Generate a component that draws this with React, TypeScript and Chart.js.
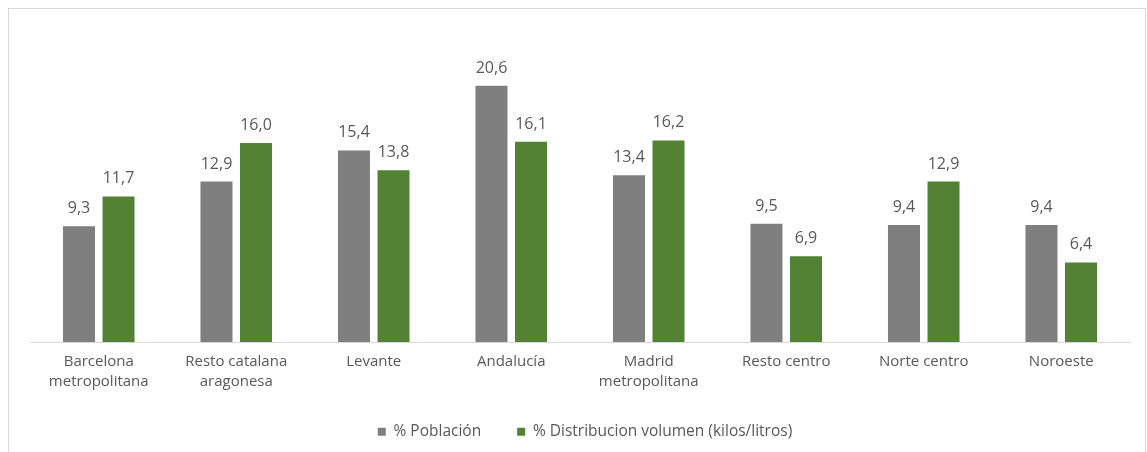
import React, { useEffect, useRef } from "react";
import { Chart, registerables } from "chart.js";

Chart.register(...registerables);

const categories: string[][] = [
  ["Barcelona", "metropolitana"],
  ["Resto catalana", "aragonesa"],
  ["Levante"],
  ["Andalucía"],
  ["Madrid", "metropolitana"],
  ["Resto centro"],
  ["Norte centro"],
  ["Noroeste"],
];
const poblacion = [9.3, 12.9, 15.4, 20.6, 13.4, 9.5, 9.4, 9.4];
const distribucion = [11.7, 16.0, 13.8, 16.1, 16.2, 6.9, 12.9, 6.4];
const seriesNames = ["% Población", "% Distribucion volumen (kilos/litros)"];

const FONT = "'Open Sans', 'Liberation Sans', sans-serif";

const valueLabels = {
  id: "valueLabels",
  afterDatasetsDraw(chart: any) {
    const ctx = chart.ctx;
    ctx.save();
    ctx.font = `16px ${FONT}`;
    ctx.fillStyle = "#595959";
    ctx.textAlign = "center";
    ctx.textBaseline = "alphabetic";
    chart.data.datasets.forEach((ds: any, i: number) => {
      const meta = chart.getDatasetMeta(i);
      meta.data.forEach((bar: any, j: number) => {
        const v = ds.data[j] as number;
        ctx.fillText(v.toFixed(1).replace(".", ","), bar.x, bar.y - 13);
      });
    });
    ctx.restore();
  },
};

// Legend: wide item spacing (padding 36) but a compact box, drawn shifted.
const legendFit = {
  id: "legendFit",
  afterInit(chart: any) {
    const lg = chart.legend;
    if (!lg) return;
    const origFit = lg.fit.bind(lg);
    lg.fit = function () {
      origFit();
      this.height = 56;
    };
    const origDraw = lg.draw.bind(lg);
    lg.draw = function (...args: any[]) {
      const ctx = chart.ctx;
      ctx.save();
      ctx.translate(5, -8);
      origDraw(...args);
      ctx.restore();
    };
  },
};

export default function App() {
  const ref = useRef<HTMLCanvasElement>(null);
  useEffect(() => {
    if (!ref.current) return;
    const chart = new Chart(ref.current, {
      type: "bar",
      data: {
        labels: categories,
        datasets: [
          { label: seriesNames[0], data: poblacion, backgroundColor: "#7f7f7f", barPercentage: 0.81, categoryPercentage: 0.575 },
          { label: seriesNames[1], data: distribucion, backgroundColor: "#548235", barPercentage: 0.81, categoryPercentage: 0.575 },
        ],
      },
      options: {
        animation: false,
        responsive: false,
        maintainAspectRatio: false,
        layout: { padding: { left: 21, right: 15, top: 22, bottom: 0 } },
        plugins: {
          legend: {
            position: "bottom",
            labels: {
              boxWidth: 8,
              boxHeight: 8,
              color: "#595959",
              font: { family: FONT, size: 15.5 },
              padding: 36,
            },
          },
          tooltip: { enabled: false },
        },
        scales: {
          x: {
            grid: { display: false, drawTicks: false },
            border: { display: true, color: "#d9d9d9" },
            ticks: { color: "#595959", font: { family: FONT, size: 15, lineHeight: 1.33 }, maxRotation: 0, padding: 10 },
            afterFit(scale: any) {
              scale.height = 54;
            },
          },
          y: { display: false, min: 0, max: 25 },
        },
      },
      plugins: [valueLabels, legendFit],
    });
    return () => chart.destroy();
  }, []);
  return (
    <div
      style={{
        position: "absolute",
        left: 8,
        top: 8,
        width: 1138,
        height: 444,
        borderTop: "1px solid #d9d9d9",
        borderLeft: "1px solid #d9d9d9",
        borderRight: "1px solid #d9d9d9",
        boxSizing: "border-box",
        background: "#fff",
        overflow: "hidden",
      }}
    >
      <canvas ref={ref} width={1136} height={443} style={{ display: "block" }} />
    </div>
  );
}
